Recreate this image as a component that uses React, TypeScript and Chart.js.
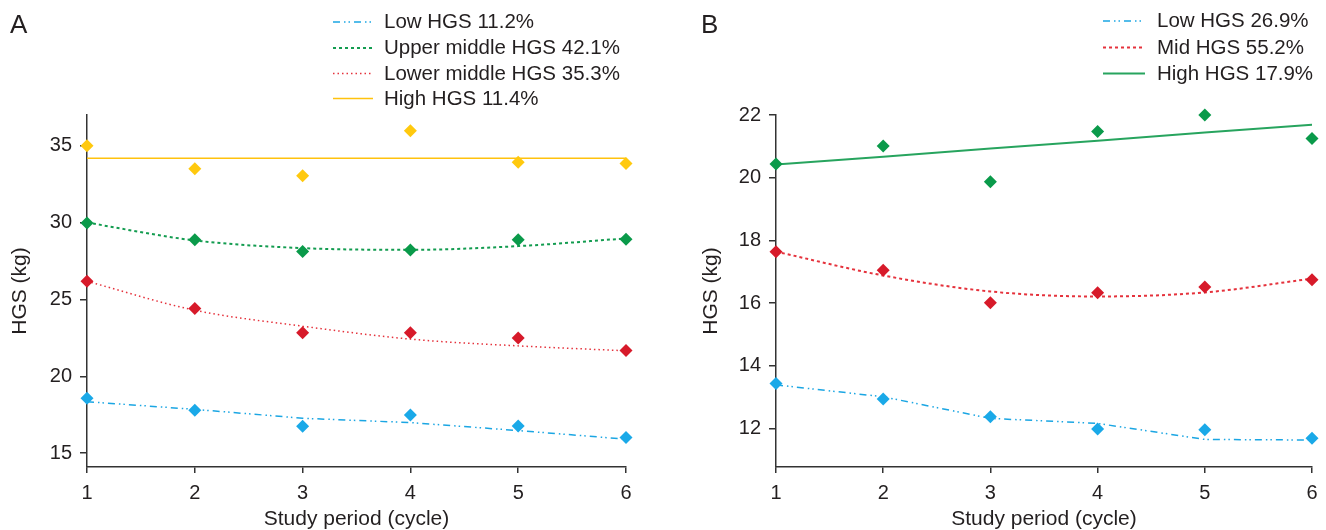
import React, { useEffect, useRef } from "react";
import { Chart, registerables } from "chart.js";

Chart.register(...registerables);

// ---------- data ----------
const cycles = [1, 2, 3, 4, 5, 6];

// Panel A
const aLabels = ["Low HGS 11.2%", "Upper middle HGS 42.1%", "Lower middle HGS 35.3%", "High HGS 11.4%"];
const aLowObs = [18.57, 17.79, 16.75, 17.49, 16.77, 16.02];
const aLowFit = [18.35, 17.85, 17.27, 16.99, 16.47, 15.91];
const aUpperObs = [29.98, 28.88, 28.12, 28.21, 28.88, 28.92];
const aUpperFit = [30.0, 28.84, 28.34, 28.23, 28.47, 28.97];
const aLowerObs = [26.18, 24.41, 22.83, 22.83, 22.5, 21.68];
const aLowerFit = [26.18, 24.3, 23.26, 22.42, 21.98, 21.66];
const aHighObs = [35.0, 33.5, 33.05, 35.97, 33.92, 33.85];
const aHighFit = [34.18, 34.18, 34.18, 34.18, 34.18, 34.18];
const aYTicks = [15, 20, 25, 30, 35];

// Panel B
const bLabels = ["Low HGS 26.9%", "Mid HGS 55.2%", "High HGS 17.9%"];
const bLowObs = [13.43, 12.94, 12.37, 11.98, 11.96, 11.69];
const bLowFit = [13.39, 13.01, 12.32, 12.16, 11.65, 11.63];
const bMidObs = [17.64, 17.05, 16.01, 16.33, 16.51, 16.74];
const bMidFit = [17.64, 16.88, 16.37, 16.21, 16.34, 16.78];
const bHighObs = [20.44, 21.01, 19.87, 21.47, 22.0, 21.25];
const bHighFit = [20.42, 20.67, 20.93, 21.18, 21.44, 21.69];
const bYTicks = [12, 14, 16, 18, 20, 22];

// ---------- styles ----------
const TEXT = "#231f20";
const AXIS = "#333333";
const SANS = "'Liberation Sans', Arial, Helvetica, sans-serif";
const TICKFONT = "'Liberation Sans Narrow', 'Arial Narrow', 'Liberation Sans', Arial, sans-serif";

const BLUE_PT = "#1aa9e8";
const BLUE_LN = "#1ba6e3";
const GREEN_PT = "#0a9a4a";
const GREEN_LN = "#139c50";
const GREEN_LN_B = "#27a45e";
const RED_PT = "#d71a2a";
const RED_LN = "#e5323c";
const YEL_PT = "#ffc90e";
const YEL_LN = "#ffc20e";

const toXY = (vals: number[]) => cycles.map((c, i) => ({ x: c, y: vals[i] }));

const obs = (vals: number[], color: string) => ({
  type: "line" as const,
  data: toXY(vals),
  showLine: false,
  pointStyle: "rectRot",
  pointRadius: 6.5,
  pointHoverRadius: 6.5,
  pointBorderWidth: 0,
  backgroundColor: color,
  borderColor: color,
  clip: false,
  order: 0,
});

const fit = (vals: number[], label: string, color: string, width: number, dash: number[], tension: number) => ({
  type: "line" as const,
  label,
  inLegend: true,
  data: toXY(vals),
  borderColor: color,
  backgroundColor: color,
  borderWidth: width,
  borderDash: dash,
  pointRadius: 0,
  tension,
  cubicInterpolationMode: tension > 0 ? "monotone" : "default",
  fill: false,
  clip: false,
  order: 1,
});

const panelDecor = {
  id: "panelDecor",
  afterDraw(chart: any, _args: any, opts: any) {
    const ctx = chart.ctx;
    ctx.save();
    ctx.fillStyle = TEXT;
    ctx.font = `26px ${SANS}`;
    ctx.textBaseline = "alphabetic";
    ctx.textAlign = "left";
    ctx.fillText(opts.letter, opts.letterX, opts.letterY);
    const items = chart.data.datasets.filter((d: any) => d.inLegend);
    items.forEach((d: any, i: number) => {
      const y = opts.rowY[i];
      ctx.strokeStyle = d.borderColor;
      ctx.lineWidth = d.borderWidth;
      ctx.setLineDash(d.borderDash || []);
      ctx.beginPath();
      ctx.moveTo(opts.lineX0, y);
      ctx.lineTo(opts.lineX1, y);
      ctx.stroke();
      ctx.setLineDash([]);
      ctx.fillStyle = TEXT;
      ctx.font = `20.5px ${SANS}`;
      ctx.textBaseline = "middle";
      ctx.fillText(d.label, opts.textX, y + 0.5);
    });
    ctx.restore();
  },
};

function makeOptions(p: {
  yMin: number;
  yMax: number;
  yTicks: number[];
  yWidth: number;
  padding: { left: number; right: number; top: number; bottom: number };
  decor: any;
}) {
  return {
    animation: false as const,
    responsive: false,
    maintainAspectRatio: false,
    events: [],
    layout: { padding: p.padding },
    plugins: {
      legend: { display: false },
      tooltip: { enabled: false },
      title: { display: false },
      panelDecor: p.decor,
    },
    scales: {
      x: {
        type: "linear" as const,
        min: 1,
        max: 6,
        afterBuildTicks: (s: any) => {
          s.ticks = cycles.map((v) => ({ value: v }));
        },
        afterFit: (s: any) => {
          s.height = 63;
        },
        grid: { display: true, drawOnChartArea: false, drawTicks: true, tickLength: 6, color: AXIS, lineWidth: 1.5 },
        border: { display: true, color: AXIS, width: 1.5 },
        ticks: { font: { family: TICKFONT, size: 20 }, color: TEXT, padding: 8, maxRotation: 0 },
        title: {
          display: true,
          text: "Study period (cycle)",
          color: TEXT,
          font: { family: SANS, size: 21, lineHeight: 1 },
          padding: { top: 0, bottom: 0 },
        },
      },
      y: {
        type: "linear" as const,
        min: p.yMin,
        max: p.yMax,
        afterBuildTicks: (s: any) => {
          s.ticks = p.yTicks.map((v) => ({ value: v }));
        },
        afterFit: (s: any) => {
          s.width = p.yWidth;
        },
        grid: { display: true, drawOnChartArea: false, drawTicks: true, tickLength: 7, color: AXIS, lineWidth: 1.5 },
        border: { display: true, color: AXIS, width: 1.5 },
        ticks: { font: { family: TICKFONT, size: 20 }, color: TEXT, padding: 8 },
        title: {
          display: true,
          text: "HGS (kg)",
          color: TEXT,
          font: { family: SANS, size: 21, lineHeight: 1 },
          padding: { top: 10, bottom: 0 },
        },
      },
    },
  };
}

function PanelA() {
  const ref = useRef<HTMLCanvasElement>(null);
  useEffect(() => {
    if (!ref.current) return;
    const chart = new Chart(ref.current, {
      type: "line",
      data: {
        datasets: [
          obs(aLowObs, BLUE_PT),
          obs(aUpperObs, GREEN_PT),
          obs(aLowerObs, RED_PT),
          obs(aHighObs, YEL_PT),
          fit(aLowFit, aLabels[0], BLUE_LN, 1.5, [7, 4, 1.5, 3, 1.5, 4], 0),
          fit(aUpperFit, aLabels[1], GREEN_LN, 2, [3, 3], 0.4),
          fit(aLowerFit, aLabels[2], RED_LN, 1.5, [1.5, 3], 0.4),
          fit(aHighFit, aLabels[3], YEL_LN, 1.5, [], 0),
        ] as any,
      },
      options: makeOptions({
        yMin: 14.1,
        yMax: 37,
        yTicks: aYTicks,
        yWidth: 87,
        padding: { left: 0, right: 37, top: 115, bottom: 0 },
        decor: {
          letter: "A",
          letterX: 10,
          letterY: 33,
          lineX0: 333,
          lineX1: 373,
          textX: 384,
          rowY: [22, 48, 73.5, 98.5],
        },
      }) as any,
      plugins: [panelDecor],
    });
    return () => chart.destroy();
  }, []);
  return <canvas ref={ref} width={663} height={530} style={{ display: "block", width: 663, height: 530 }} />;
}

function PanelB() {
  const ref = useRef<HTMLCanvasElement>(null);
  useEffect(() => {
    if (!ref.current) return;
    const chart = new Chart(ref.current, {
      type: "line",
      data: {
        datasets: [
          obs(bLowObs, BLUE_PT),
          obs(bMidObs, RED_PT),
          obs(bHighObs, GREEN_PT),
          fit(bLowFit, bLabels[0], BLUE_LN, 1.5, [7, 4, 1.5, 3, 1.5, 4], 0),
          fit(bMidFit, bLabels[1], RED_LN, 2, [3, 3], 0.4),
          fit(bHighFit, bLabels[2], GREEN_LN_B, 2, [], 0),
        ] as any,
      },
      options: makeOptions({
        yMin: 10.77,
        yMax: 22,
        yTicks: bYTicks,
        yWidth: 85,
        padding: { left: 28, right: 14, top: 115, bottom: 0 },
        decor: {
          letter: "B",
          letterX: 38,
          letterY: 33,
          lineX0: 440,
          lineX1: 482,
          textX: 494,
          rowY: [21, 47.5, 73.5],
        },
      }) as any,
      plugins: [panelDecor],
    });
    return () => chart.destroy();
  }, []);
  return <canvas ref={ref} width={663} height={530} style={{ display: "block", width: 663, height: 530 }} />;
}

export default function App() {
  return (
    <div
      style={{
        position: "fixed",
        left: 0,
        top: 0,
        width: 1326,
        height: 530,
        background: "#ffffff",
        display: "flex",
        flexDirection: "row",
        overflow: "hidden",
      }}
    >
      <PanelA />
      <PanelB />
    </div>
  );
}
